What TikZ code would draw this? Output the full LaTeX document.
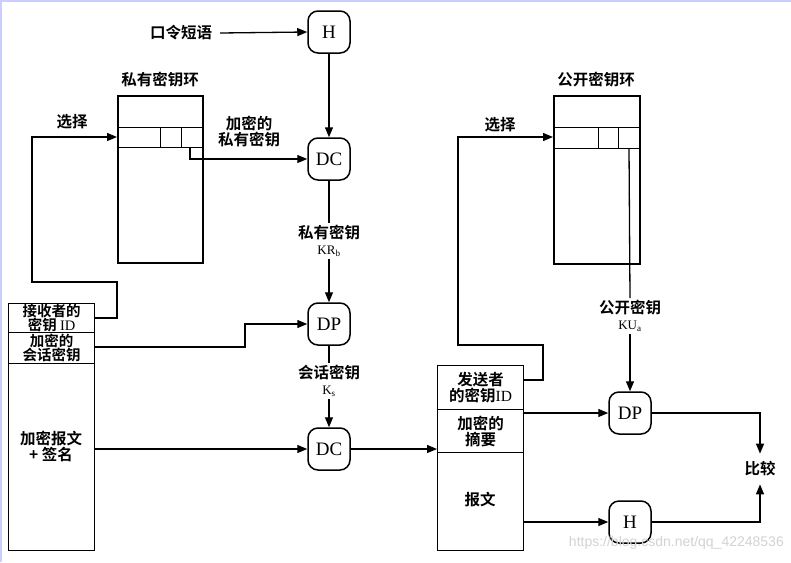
\documentclass[tikz,border=0pt]{standalone}
\usepackage{fontspec}
\setmainfont{Liberation Serif}
\newfontfamily\cjk{Noto Sans CJK SC}[BoldFont={Noto Sans CJK SC Bold}]
\setsansfont{Liberation Sans}
\usetikzlibrary{arrows.meta,calc}
\newcommand{\latn}[1]{{\rmfamily\mdseries\fontsize{13}{13}\selectfont #1}}
\begin{document}
\begin{tikzpicture}[x=1pt,y=-1pt,
  proc/.style={draw,line width=1.5pt,rounded corners=10pt,minimum width=42pt,minimum height=42pt,inner sep=0pt,font=\fontsize{19}{19}\selectfont},
  lbl/.style={font=\cjk\bfseries\fontsize{15.5}{16}\selectfont,align=center,inner sep=0pt},
  celltxt/.style={font=\cjk\bfseries\fontsize{14.5}{14}\selectfont,align=center,inner sep=0pt},
  arr/.style={line width=1.3pt,-{Triangle[length=10pt,width=8pt]}},
  ln/.style={line width=1.3pt},
  cell/.style={draw,line width=1.3pt,inner sep=0pt,anchor=north west},
  ring/.style={draw,line width=1.5pt,inner sep=0pt,anchor=north west},
  thin/.style={line width=0.9pt}
]
\useasboundingbox (0,0) rectangle (791,562);
\draw[blue!20,line width=2.5pt] (1.2,562) -- (1.2,1.2) -- (791,1.2);

% process boxes
\node[proc] (H1) at (329,32) {H};
\node[proc] (DC1) at (329,159) {DC};
\node[proc] (DP1) at (329,324) {DP};
\node[proc] (DC2) at (329,449) {DC};
\node[proc] (DP2) at (630,413) {DP};
\node[proc] (H2) at (630,522) {H};

% passphrase
\node[lbl] (pw) at (181,33) {口令短语};
\draw[arr] ([xshift=8pt]pw.east) -- (H1.west);

% private key ring
\node[ring,minimum width=85pt,minimum height=167pt] (priv) at (117,95) {};
\node[lbl] (privt) at (160,80) {私有密钥环};
\draw[thin] (117,127) -- (202,127) (117,147) -- (202,147);
\draw[thin] (160,127) -- (160,147) (181,127) -- (181,147);
\coordinate (pk) at (190,147);

% public key ring
\node[ring,minimum width=86pt,minimum height=168pt] (pub) at (553,95) {};
\node[lbl] (pubt) at (596,80) {公开密钥环};
\draw[thin] (553,127) -- (639,127) (553,148) -- (639,148);
\draw[thin] (598,127) -- (598,148) (618,127) -- (618,148);
\coordinate (uk) at (629,148);

% left message
\node[cell,minimum width=86pt,minimum height=29pt] (rid) at (8,303) {};
\node[celltxt] at (rid.center) {接收者的\\密钥 {\rmfamily\mdseries ID}};
\node[cell,minimum width=86pt,minimum height=31pt] (rsk) at (8,332) {};
\node[celltxt] at (rsk.center) {加密的\\会话密钥};
\node[cell,minimum width=86pt,minimum height=187pt] (rmsg) at (8,363) {};
\node[lbl] (rmsgt) at (51,446) {加密报文\\+ 签名};

% right message
\node[cell,minimum width=86pt,minimum height=44pt] (sid) at (437,365) {};
\node[lbl] at (sid.center) {发送者\\的密钥{\rmfamily\mdseries ID}};
\node[cell,minimum width=86pt,minimum height=43pt] (sdig) at (437,409) {};
\node[lbl] at (sdig.center) {加密的\\摘要};
\node[cell,minimum width=86pt,minimum height=98pt] (smsg) at (437,452) {};
\node[lbl] (smsgt) at (480,500) {报文};

% labels
\node[lbl] (sel1) at (72,122) {选择};
\node[lbl] (sel2) at (500,125) {选择};
\node[lbl] (epk) at (249,132) {加密的\\私有密钥};
\node[lbl,inner sep=2pt] (krb) at (329,241) {私有密钥\\\latn{KR\textsubscript{b}}};
\node[lbl,inner sep=2pt] (ks) at (329,381) {会话密钥\\\latn{K\textsubscript{s}}};
\node[lbl,inner sep=2pt] (kua) at (630,316) {公开密钥\\\latn{KU\textsubscript{a}}};
\node[lbl,outer sep=8pt] (cmp) at (760,469) {比较};

% connectors left column
\draw[arr] (H1.south) -- (DC1.north);
\draw[ln] (DC1.south) -- (krb.north);
\draw[arr] (krb.south) -- (DP1.north);
\draw[ln] (DP1.south) -- (ks.north);
\draw[arr] (ks.south) -- (DC2.north);

% private key selection
\coordinate (a1) at (117,318);
\coordinate (a2) at (117,282);
\coordinate (a3) at (32,282);
\coordinate (a4) at (32,137);
\draw[arr] (rid.east |- a1) -- (a1) -- (a2) -- (a3) -- (a4) -- (priv.west |- a4);
\draw[arr] (pk) -- (pk |- DC1.west) -- (DC1.west);

% session key
\coordinate (b1) at (245,347);
\draw[arr] (rsk.east |- b1) -- (b1) -- (b1 |- DP1.west) -- (DP1.west);

% message
\draw[arr] (rmsg.east |- DC2.west) -- (DC2.west);
\draw[arr] (DC2.east) -- (sdig.west |- DC2.east);

% public key selection
\coordinate (c1) at (543,380);
\coordinate (c2) at (543,345);
\coordinate (c3) at (458,345);
\coordinate (c4) at (458,137);
\draw[arr] (sid.east |- c1) -- (c1) -- (c2) -- (c3) -- (c4) -- (pub.west |- c4);
\draw[ln] (uk) -- (kua.north);
\draw[arr] (kua.south) -- (DP2.north);

% compare
\draw[arr] (sdig.east |- DP2.west) -- (DP2.west);
\draw[arr] (smsg.east |- H2.west) -- (H2.west);
\draw[arr] (DP2.east) -- (cmp.north |- DP2.east) -- (cmp.north);
\draw[arr] (H2.east) -- (cmp.south |- H2.east) -- (cmp.south);

% watermark
\node[font=\sffamily\fontsize{14}{14}\selectfont,text=gray!35,anchor=east,inner sep=0pt] (wm) at (784,543) {https://blog.csdn.net/qq\_42248536};
\end{tikzpicture}
\end{document}
